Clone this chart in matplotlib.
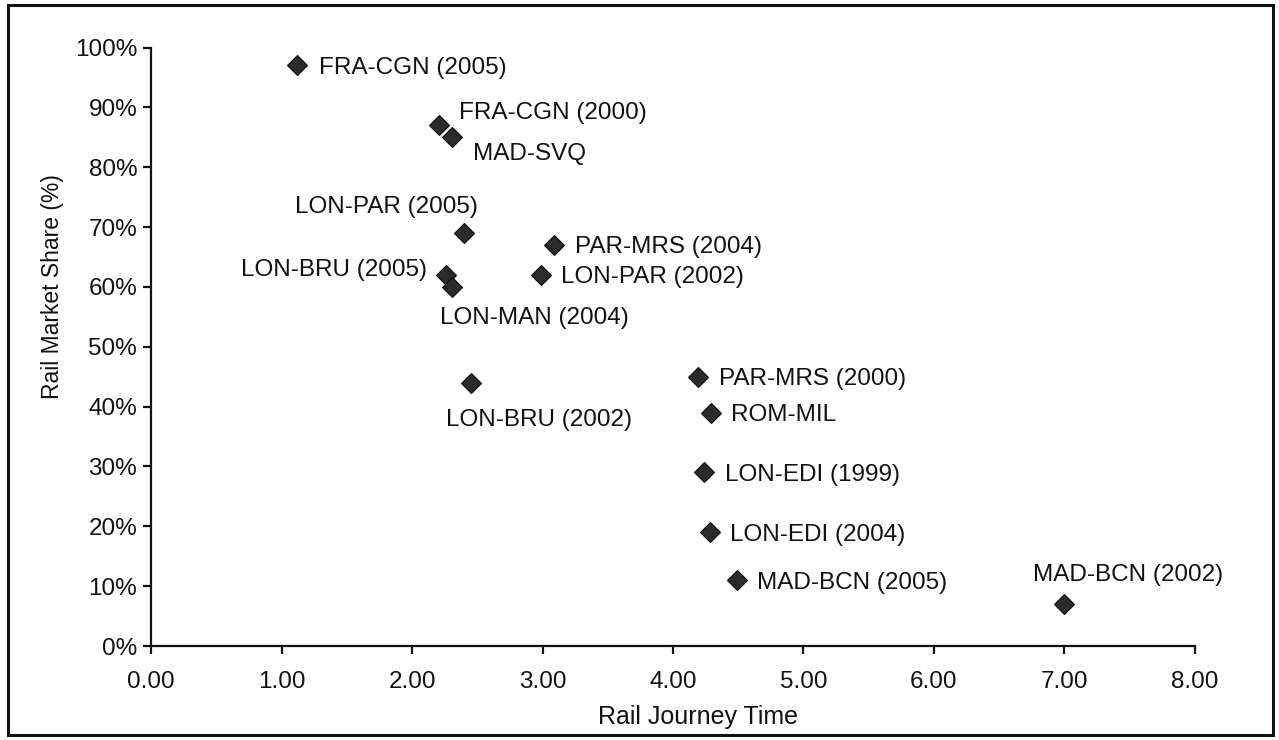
import matplotlib.pyplot as plt
from matplotlib.ticker import FuncFormatter, MultipleLocator
from matplotlib.patches import Rectangle

plt.rcParams["font.family"] = ["Liberation Sans", "DejaVu Sans"]

# data
routes = ["FRA-CGN (2005)", "FRA-CGN (2000)", "MAD-SVQ", "LON-PAR (2005)",
          "LON-BRU (2005)", "LON-MAN (2004)", "PAR-MRS (2004)", "LON-PAR (2002)",
          "LON-BRU (2002)", "PAR-MRS (2000)", "ROM-MIL", "LON-EDI (1999)",
          "LON-EDI (2004)", "MAD-BCN (2005)", "MAD-BCN (2002)"]
journey_time = [1.12, 2.21, 2.31, 2.40, 2.26, 2.31, 3.09, 2.99,
                2.45, 4.19, 4.29, 4.24, 4.28, 4.49, 7.00]
market_share = [97, 87, 85, 69, 62, 60, 67, 62,
                44, 45, 39, 29, 19, 11, 7]

# label offsets in pixels (dx, dy) and horizontal alignment
label_pos = {
    "FRA-CGN (2005)": (22, -3, "left"),
    "FRA-CGN (2000)": (20, 12, "left"),
    "MAD-SVQ": (21, -17, "left"),
    "LON-PAR (2005)": (-78, 26, "center"),
    "LON-BRU (2005)": (-19, 5, "right"),
    "LON-MAN (2004)": (-12, -31, "left"),
    "PAR-MRS (2004)": (21, -2, "left"),
    "LON-PAR (2002)": (20, -2, "left"),
    "LON-BRU (2002)": (-25, -37, "left"),
    "PAR-MRS (2000)": (21, -2, "left"),
    "ROM-MIL": (20, -2, "left"),
    "LON-EDI (1999)": (21, -3, "left"),
    "LON-EDI (2004)": (20, -3, "left"),
    "MAD-BCN (2005)": (20, -3, "left"),
    "MAD-BCN (2002)": (64, 29, "center"),
}

fig = plt.figure(figsize=(12.79, 7.40), dpi=100)
ax = fig.add_axes([0.1181, 0.1270, 0.8162, 0.8088])

ax.plot(journey_time, market_share, linestyle="none", marker="D", markersize=10,
        markerfacecolor="#2b2b2b", markeredgecolor="#111111", markeredgewidth=0.8,
        clip_on=False)

for name, x, y in zip(routes, journey_time, market_share):
    dx, dy, ha = label_pos[name]
    ax.annotate(name, (x, y), xytext=(dx, dy), textcoords="offset pixels",
                ha=ha, va="center", fontsize=17.5, color="#111111")

ax.set_xlim(0, 8)
ax.set_ylim(0, 100)
ax.xaxis.set_major_locator(MultipleLocator(1))
ax.yaxis.set_major_locator(MultipleLocator(10))
ax.xaxis.set_major_formatter(FuncFormatter(lambda v, p: f"{v:.2f}"))
ax.yaxis.set_major_formatter(FuncFormatter(lambda v, p: f"{v:.0f}%"))

for side in ["top", "right"]:
    ax.spines[side].set_visible(False)
for side in ["left", "bottom"]:
    ax.spines[side].set_linewidth(1.6)
    ax.spines[side].set_color("#111111")

ax.tick_params(direction="out", length=6, width=1.6, colors="#111111",
               labelsize=17.5)
ax.tick_params(axis="x", pad=12)
ax.tick_params(axis="y", pad=4)

ax.set_xlabel("Rail Journey Time", fontsize=18, color="#111111")
ax.xaxis.set_label_coords(0.524, -0.099)
ax.set_ylabel("Rail Market Share (%)", fontsize=16.5, color="#111111")
ax.yaxis.set_label_coords(-0.083, 0.60)

# outer chart border
fig.patches.append(Rectangle((8 / 1279, 5 / 740), 1265 / 1279, 730 / 740,
                             transform=fig.transFigure, fill=False,
                             edgecolor="#111111", linewidth=2.2))

fig.savefig("out.png", dpi=100)
